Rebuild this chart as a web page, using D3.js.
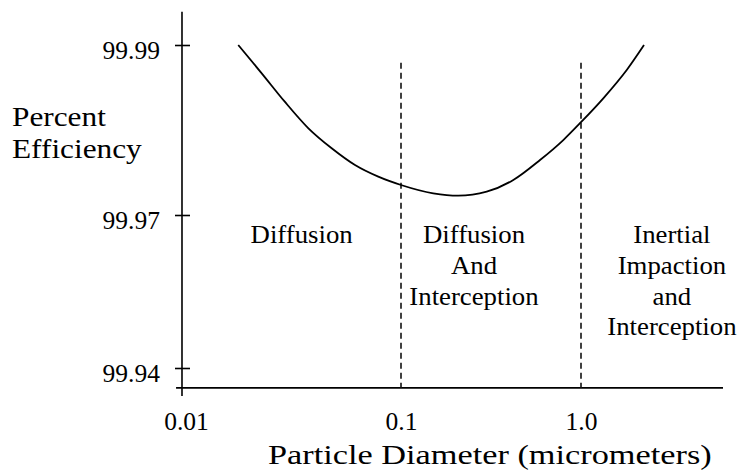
<!DOCTYPE html>
<html>
<head>
<meta charset="utf-8">
<script src="https://cdn.jsdelivr.net/npm/d3@7"></script>
<style>
  html, body { margin: 0; padding: 0; background: #fff; }
  svg { display: block; }
</style>
</head>
<body>
<svg id="chart" width="742" height="471"></svg>
<script>
// Filter collection efficiency vs. particle diameter
const diameters = [0.0175, 0.0225, 0.0288, 0.0371, 0.0476, 0.0611, 0.0784, 0.1,
                   0.1511, 0.2081, 0.2993, 0.4207, 0.592, 0.7974, 1.0, 1.33, 1.795, 2.239];
const efficiency = [99.99, 99.98667, 99.98333, 99.9802, 99.97785, 99.97588, 99.97451, 99.97353,
                    99.97255, 99.97227, 99.97274, 99.97412, 99.97647, 99.97882, 99.98092, 99.98373, 99.98706, 99.99];

const xTickValues = [0.01, 0.1, 1.0];
const xTickLabels = ["0.01", "0.1", "1.0"];
const yTickValues = [99.99, 99.97, 99.94];
const yTickLabels = ["99.99", "99.97", "99.94"];

// Mechanism boundaries (micrometers) and the regions between them
const boundaries = [0.1, 1.0];
const boundaryTop = 99.9879;
const regionNames = [
  ["Diffusion"],
  ["Diffusion", "And", "Interception"],
  ["Inertial", "Impaction", "and", "Interception"]
];
const regionCenters = [0.0345, 0.2544, 3.2];

const FONT = "'Liberation Serif', 'Times New Roman', serif";
const svg = d3.select("#chart");

// Schematic axes: piecewise scales through the labelled ticks
const x = d3.scaleLog().domain([0.01, 0.1, 1]).range([186, 401, 581]);
const y = d3.scaleLinear().domain([99.94, 99.97, 99.99]).range([368, 215, 45]);

const xAxisY = y(99.9361);
const yAxisX = x(0.00958);

// Axis lines (crossing at the origin)
svg.append("line")
  .attr("x1", x(0.00899)).attr("x2", x(6.15))
  .attr("y1", xAxisY).attr("y2", xAxisY)
  .attr("stroke", "#000").attr("stroke-width", 1.6);
svg.append("line")
  .attr("x1", yAxisX).attr("x2", yAxisX)
  .attr("y1", y(99.9939)).attr("y2", y(99.9345))
  .attr("stroke", "#000").attr("stroke-width", 1.6);

// Y ticks
const yAxis = d3.axisLeft(y)
  .tickValues(yTickValues)
  .tickSize(7)
  .tickPadding(15)
  .tickFormat((d, i) => yTickLabels[i]);
const gy = svg.append("g").attr("transform", `translate(${yAxisX},0)`).call(yAxis);
gy.select(".domain").remove();
gy.selectAll(".tick line").attr("x1", 8).attr("stroke", "#000").attr("stroke-width", 1.6);
gy.selectAll(".tick text")
  .style("font-family", FONT)
  .style("font-size", "25.5px")
  .attr("dy", 13)
  .attr("fill", "#000");

// X tick labels
const xAxis = d3.axisBottom(x)
  .tickValues(xTickValues)
  .tickSize(0)
  .tickPadding(24)
  .tickFormat((d, i) => xTickLabels[i]);
const gx = svg.append("g").attr("transform", `translate(0,${xAxisY})`).call(xAxis);
gx.select(".domain").remove();
gx.selectAll(".tick text")
  .style("font-family", FONT)
  .style("font-size", "25.5px")
  .attr("fill", "#000");

// Region boundaries
svg.selectAll("line.boundary")
  .data(boundaries)
  .join("line")
  .attr("class", "boundary")
  .attr("x1", d => x(d)).attr("x2", d => x(d))
  .attr("y1", y(boundaryTop)).attr("y2", xAxisY)
  .attr("stroke", "#111").attr("stroke-width", 1.6)
  .attr("stroke-dasharray", "6,4");

// Efficiency curve
const pts = diameters.map((d, i) => [d, efficiency[i]]);
const line = d3.line()
  .x(d => x(d[0]))
  .y(d => y(d[1]))
  .curve(d3.curveMonotoneX);
svg.append("path")
  .datum(pts)
  .attr("d", line)
  .attr("fill", "none")
  .attr("stroke", "#000")
  .attr("stroke-width", 1.8);

// Text helper with horizontal stretch
function stretchedText(str, px, py, size, sx, anchor) {
  svg.append("text")
    .attr("transform", `translate(${px},${py}) scale(${sx},1)`)
    .attr("text-anchor", anchor)
    .attr("fill", "#000")
    .style("font-family", FONT)
    .style("font-size", size + "px")
    .text(str);
}

// Region labels
regionNames.forEach((lines, r) => {
  lines.forEach((s, j) => {
    stretchedText(s, x(regionCenters[r]), 243 + j * 30.8, 25.5, 1.05, "middle");
  });
});

// Axis titles
stretchedText("Percent", 12, 126, 27, 1.16, "start");
stretchedText("Efficiency", 12, 158, 27, 1.16, "start");
stretchedText("Particle Diameter (micrometers)", 268, 464, 27, 1.27, "start");
</script>
</body>
</html>
